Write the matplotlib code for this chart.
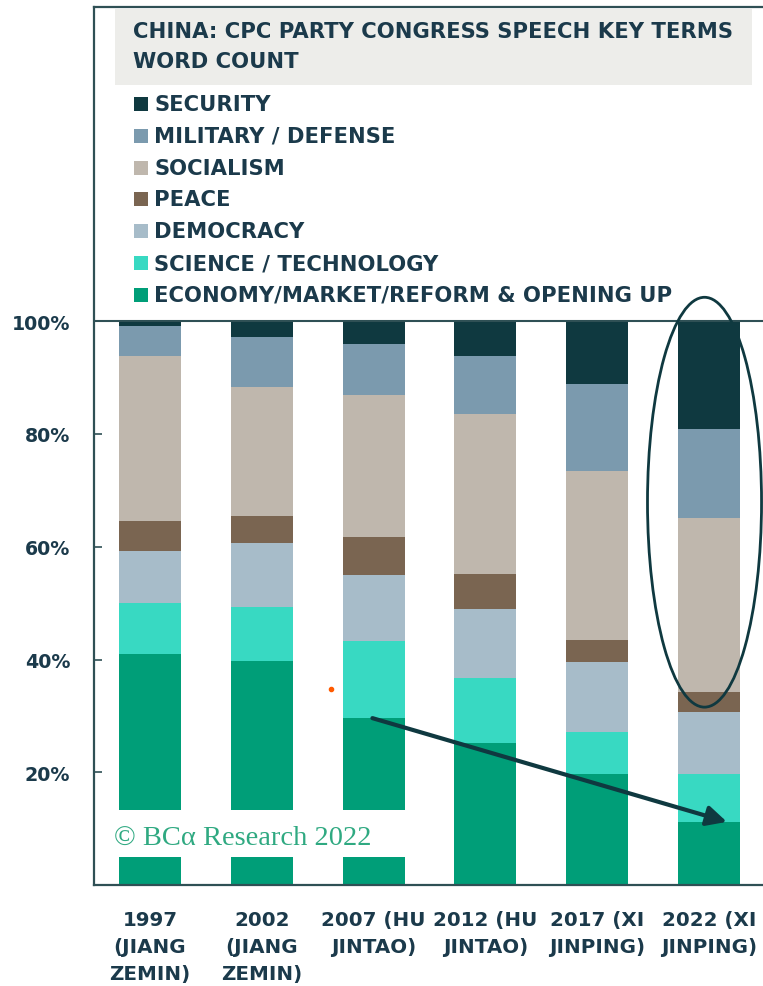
import numpy as np
import matplotlib
matplotlib.use("Agg")
import matplotlib.pyplot as plt
from matplotlib.patches import Rectangle, Ellipse

plt.rcParams['font.family'] = ['DejaVu Sans']

# share of key terms per congress speech (%)
years = ["1997\n(JIANG\nZEMIN)", "2002\n(JIANG\nZEMIN)", "2007 (HU\nJINTAO)",
         "2012 (HU\nJINTAO)", "2017 (XI\nJINPING)", "2022 (XI\nJINPING)"]
economy = [41.0, 39.7, 29.6, 25.2, 19.7, 11.2]
science = [9.0, 9.6, 13.7, 11.5, 7.4, 8.5]
democracy = [9.2, 11.3, 11.7, 12.2, 12.4, 11.0]
peace = [5.4, 4.8, 6.7, 6.2, 3.9, 3.5]
socialism = [29.2, 22.9, 25.2, 28.4, 30.0, 30.9]
military = [5.3, 8.9, 9.0, 10.3, 15.4, 15.8]
security = [0.9, 2.8, 4.1, 6.2, 11.2, 19.1]

names = ["ECONOMY/MARKET/REFORM & OPENING UP", "SCIENCE / TECHNOLOGY", "DEMOCRACY",
         "PEACE", "SOCIALISM", "MILITARY / DEFENSE", "SECURITY"]
series = [economy, science, democracy, peace, socialism, military, security]
colors = ["#009e78", "#38d9c2", "#a7bcc9", "#7a6551", "#bfb7ad", "#7b9aae", "#0f3940"]

navy = "#1b3a4b"
frame = "#2f5055"
fs = 15.2

W, H = 763, 987
fig = plt.figure(figsize=(W / 100, H / 100), dpi=100)


def fx(x):
    return x / W


def fy(y):
    return 1 - y / H


ax = fig.add_axes([fx(94), fy(886), fx(780 - 94), fy(8) - fy(886)])
x = np.arange(len(years))
bottom = np.zeros(len(years))
for vals, c in zip(series, colors):
    ax.bar(x, vals, 0.555, bottom=bottom, color=c, zorder=2)
    bottom += np.array(vals)

ax.set_xlim(-0.5, (780 - 150) / 111.8)
ax.set_ylim(0, (886 - 8) / 5.6375)
ax.axhline(100, color=frame, lw=1.5, zorder=3)
for s in ["left", "bottom", "top"]:
    ax.spines[s].set_color(frame)
    ax.spines[s].set_linewidth(1.6)
    ax.spines[s].set_zorder(7)
ax.spines["right"].set_visible(False)

ax.set_yticks([20, 40, 60, 80, 100])
ax.set_yticklabels(["20%", "40%", "60%", "80%", "100%"])
ax.tick_params(axis="y", direction="in", length=6, width=1.2, color=frame,
               pad=17, labelsize=13.7, labelcolor=navy)
for t in ax.get_yticklabels():
    t.set_fontweight("bold")
ax.set_xticks(x)
ax.set_xticklabels(years, fontsize=14.3, fontweight="bold", color=navy, linespacing=1.52)
ax.tick_params(axis="x", length=0, pad=18)

# watermark strip
ax.add_patch(Rectangle((-0.49, (886 - 858) / 5.6375), (420 - 96) / 111.8, 47 / 5.6375,
                       facecolor="white", edgecolor="none", zorder=4))
ax.text(-0.32, (886 - 845) / 5.6375, "© BCα Research 2022", family="Liberation Serif",
        fontsize=20.5, color="#2fa981", zorder=5, va="baseline")

# decline of economic terms
ax.annotate("", xy=(5.16, economy[5]), xytext=(1.99, economy[2]),
            arrowprops=dict(arrowstyle="-|>", color="#0f3940", lw=3, mutation_scale=30,
                            shrinkA=0, shrinkB=0), zorder=6)
ax.add_patch(Ellipse((4.96, 67.9), 1.02, 72.7, fill=False, edgecolor="#0f3940",
                     lw=2, zorder=6, clip_on=False))
ax.plot([1.62], [34.8], "o", color="#ff5a00", ms=3, zorder=6)

# header and legend
fig.patches.append(Rectangle((fx(115), fy(86)), fx(752 - 115), fy(10) - fy(86),
                             transform=fig.transFigure, facecolor="#ededea",
                             edgecolor="none"))
fig.text(fx(133), fy(32), "CHINA: CPC PARTY CONGRESS SPEECH KEY TERMS",
         fontsize=fs, fontweight="bold", color=navy, va="center")
fig.text(fx(133), fy(62), "WORD COUNT", fontsize=fs, fontweight="bold", color=navy,
         va="center")
for i, (n, c) in enumerate(zip(names[::-1], colors[::-1])):
    yc = 105 + i * 31.8
    fig.patches.append(Rectangle((fx(134), fy(yc + 7)), fx(14), fy(yc - 7) - fy(yc + 7),
                                 transform=fig.transFigure, facecolor=c, edgecolor="none"))
    fig.text(fx(154), fy(yc), n, fontsize=fs, fontweight="bold", color=navy, va="center")

fig.savefig("out.png", dpi=100)
